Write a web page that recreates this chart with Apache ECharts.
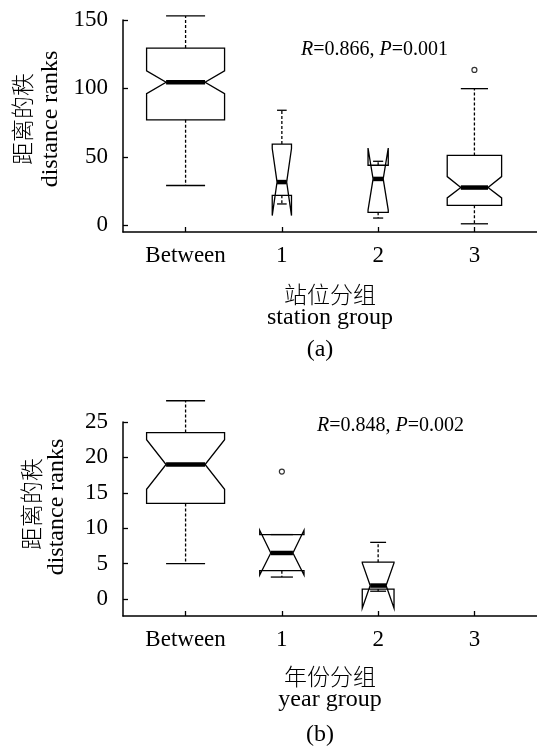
<!DOCTYPE html>
<html>
<head>
<meta charset="utf-8">
<script src="https://cdn.jsdelivr.net/npm/echarts@6/dist/echarts.min.js"></script>
<style>
html,body{margin:0;padding:0;background:#fff;}
#main{width:537px;height:750px;}
</style>
</head>
<body>
<div id="main"></div>
<script>
// ---------- data ----------
const categories = ['Between', '1', '2', '3'];
const xTicks = [0, 1, 2, 3];

// (a) station group
const aGroup    = [0, 1, 2, 3];
const aMin      = [29, 15.5, 5.2, 1];
const aQ1       = [77, 21.8, 9.4, 14.5];
const aMed      = [104.5, 31.5, 33.8, 27.5];
const aQ3       = [129.5, 59.3, 43.8, 51];
const aMax      = [153, 84, 46.7, 99.8];
const aNotchLo  = [96.2, 7, 11, 19.9];
const aNotchHi  = [112.8, 56, 56.4, 35.5];
const aWidth    = [0.81, 0.2, 0.21, 0.565];
const aOutGroup = [3];
const aOutValue = [113.5];
const aYTicks   = [0, 50, 100, 150];
const aStat     = ['R', '=0.866, ', 'P', '=0.001'];

// (b) year group
const bGroup    = [0, 1, 2];
const bMin      = [5, 3.1, 1.1];
const bQ1       = [13.5, 4.0, 1.4];
const bMed      = [19, 6.5, 1.9];
const bQ3       = [23.5, 9.1, 5.2];
const bMax      = [28, 9.1, 8];
const bNotchLo  = [15.5, 3.4, -1.3];
const bNotchHi  = [22.5, 9.7, 5.1];
const bWidth    = [0.81, 0.46, 0.33];
const bOutGroup = [1];
const bOutValue = [18];
const bYTicks   = [0, 5, 10, 15, 20, 25];
const bStat     = ['R', '=0.848, ', 'P', '=0.002'];

// ---------- helpers ----------
const SERIF = '"Liberation Serif", "Times New Roman", serif';
const CJK = '"Noto Sans CJK SC", sans-serif';

function buildBoxData(g, mn, q1, md, q3, mx, nl, nh, w) {
  return g.map((x, i) => [x, mn[i], q1[i], md[i], q3[i], mx[i], nl[i], nh[i], w[i]]);
}

function renderBox(params, api) {
  const x = api.value(0);
  const mn = api.value(1), q1 = api.value(2), md = api.value(3), q3 = api.value(4),
        mx = api.value(5), nl = api.value(6), nh = api.value(7), w = api.value(8);
  const cx = api.coord([x, md])[0];
  const Y = v => api.coord([x, v])[1];
  const hw = api.size([w, 0])[0] / 2;
  const xl = cx - hw, xr = cx + hw, xnl = cx - hw / 2, xnr = cx + hw / 2;
  const lw = 1.3;
  return {
    type: 'group',
    children: [
      { type: 'polygon',
        shape: { points: [[xl, Y(q1)], [xl, Y(nl)], [xnl, Y(md)], [xl, Y(nh)], [xl, Y(q3)],
                          [xr, Y(q3)], [xr, Y(nh)], [xnr, Y(md)], [xr, Y(nl)], [xr, Y(q1)]] },
        style: { fill: '#fff', stroke: '#000', lineWidth: lw } },
      { type: 'line', shape: { x1: cx, y1: Y(q3), x2: cx, y2: Y(mx) },
        style: { stroke: '#000', lineWidth: lw, lineDash: [3, 2] } },
      { type: 'line', shape: { x1: cx, y1: Y(q1), x2: cx, y2: Y(mn) },
        style: { stroke: '#000', lineWidth: lw, lineDash: [3, 2] } },
      { type: 'line', shape: { x1: xnl, y1: Y(mx), x2: xnr, y2: Y(mx) },
        style: { stroke: '#000', lineWidth: lw } },
      { type: 'line', shape: { x1: xnl, y1: Y(mn), x2: xnr, y2: Y(mn) },
        style: { stroke: '#000', lineWidth: lw } },
      { type: 'line', shape: { x1: xnl, y1: Y(md), x2: xnr, y2: Y(md) },
        style: { stroke: '#000', lineWidth: 4.5 } }
    ]
  };
}

function xAxisCfg(gi) {
  return {
    gridIndex: gi, type: 'value', min: -0.65, max: 3.65,
    axisLine: { show: true, onZero: false, lineStyle: { color: '#000', width: 1.5 } },
    axisTick: { show: true, inside: true, length: 5, customValues: xTicks,
                lineStyle: { color: '#000', width: 1.3 } },
    axisLabel: { customValues: xTicks, formatter: v => categories[Math.round(v)],
                 margin: 12, color: '#000', fontFamily: SERIF, fontSize: 23 },
    splitLine: { show: false }
  };
}
function yAxisCfg(gi, mn, mx, ticks) {
  return {
    gridIndex: gi, type: 'value', min: mn, max: mx,
    axisLine: { show: true, onZero: false, lineStyle: { color: '#000', width: 1.5 } },
    axisTick: { show: true, inside: true, length: 5, customValues: ticks,
                lineStyle: { color: '#000', width: 1.3 } },
    axisLabel: { customValues: ticks, margin: 15, color: '#000', fontFamily: SERIF, fontSize: 23 },
    splitLine: { show: false }
  };
}
function txt(text, x, y, font, rot) {
  return { type: 'text', x: x, y: y, rotation: rot || 0, silent: true,
    style: { text: text, font: font, fill: '#000',
             align: 'center', verticalAlign: 'middle',
             textAlign: 'center', textVerticalAlign: 'middle' } };
}
function statText(parts, x, y) {
  return { type: 'text', x: x, y: y, silent: true,
    style: { text: '{i|' + parts[0] + '}{n|' + parts[1] + '}{i|' + parts[2] + '}{n|' + parts[3] + '}',
             align: 'left', verticalAlign: 'middle', textAlign: 'left', textVerticalAlign: 'middle',
             fill: '#000',
             rich: { i: { fontFamily: SERIF, fontSize: 20, fontStyle: 'italic', color: '#000' },
                     n: { fontFamily: SERIF, fontSize: 20, color: '#000' } } } };
}

const chart = echarts.init(document.getElementById('main'), null, { renderer: 'canvas' });
chart.setOption({
  animation: false,
  backgroundColor: '#fff',
  grid: [
    { left: 123, top: 20, width: 414, height: 212 },
    { left: 123, top: 422, width: 414, height: 194 }
  ],
  xAxis: [xAxisCfg(0), xAxisCfg(1)],
  yAxis: [yAxisCfg(0, -5, 150, aYTicks), yAxisCfg(1, -2.4, 25, bYTicks)],
  series: [
    { type: 'custom', xAxisIndex: 0, yAxisIndex: 0, clip: false, renderItem: renderBox,
      encode: { x: 0, y: [1, 5, 6, 7] },
      data: buildBoxData(aGroup, aMin, aQ1, aMed, aQ3, aMax, aNotchLo, aNotchHi, aWidth) },
    { type: 'custom', xAxisIndex: 1, yAxisIndex: 1, clip: false, renderItem: renderBox,
      encode: { x: 0, y: [1, 5, 6, 7] },
      data: buildBoxData(bGroup, bMin, bQ1, bMed, bQ3, bMax, bNotchLo, bNotchHi, bWidth) },
    { type: 'scatter', xAxisIndex: 0, yAxisIndex: 0, symbol: 'circle', symbolSize: 5,
      itemStyle: { color: '#fff', borderColor: '#000', borderWidth: 1.2 },
      data: aOutGroup.map((g, i) => [g, aOutValue[i]]) },
    { type: 'scatter', xAxisIndex: 1, yAxisIndex: 1, symbol: 'circle', symbolSize: 5,
      itemStyle: { color: '#fff', borderColor: '#000', borderWidth: 1.2 },
      data: bOutGroup.map((g, i) => [g, bOutValue[i]]) }
  ],
  graphic: [
    txt('距离的秩', 22, 119, '300 23px ' + CJK, Math.PI / 2),
    txt('distance ranks', 51, 119, '24px ' + SERIF, Math.PI / 2),
    txt('站位分组', 330, 294, '300 23px ' + CJK),
    txt('station group', 330, 318, '24px ' + SERIF),
    txt('(a)', 320, 350, '24px ' + SERIF),
    statText(aStat, 301, 50),
    txt('距离的秩', 31, 504, '300 23px ' + CJK, Math.PI / 2),
    txt('distance ranks', 57, 507, '24px ' + SERIF, Math.PI / 2),
    txt('年份分组', 330, 676, '300 23px ' + CJK),
    txt('year group', 330, 700, '24px ' + SERIF),
    txt('(b)', 320, 735, '24px ' + SERIF),
    statText(bStat, 317, 426)
  ]
});
</script>
</body>
</html>
